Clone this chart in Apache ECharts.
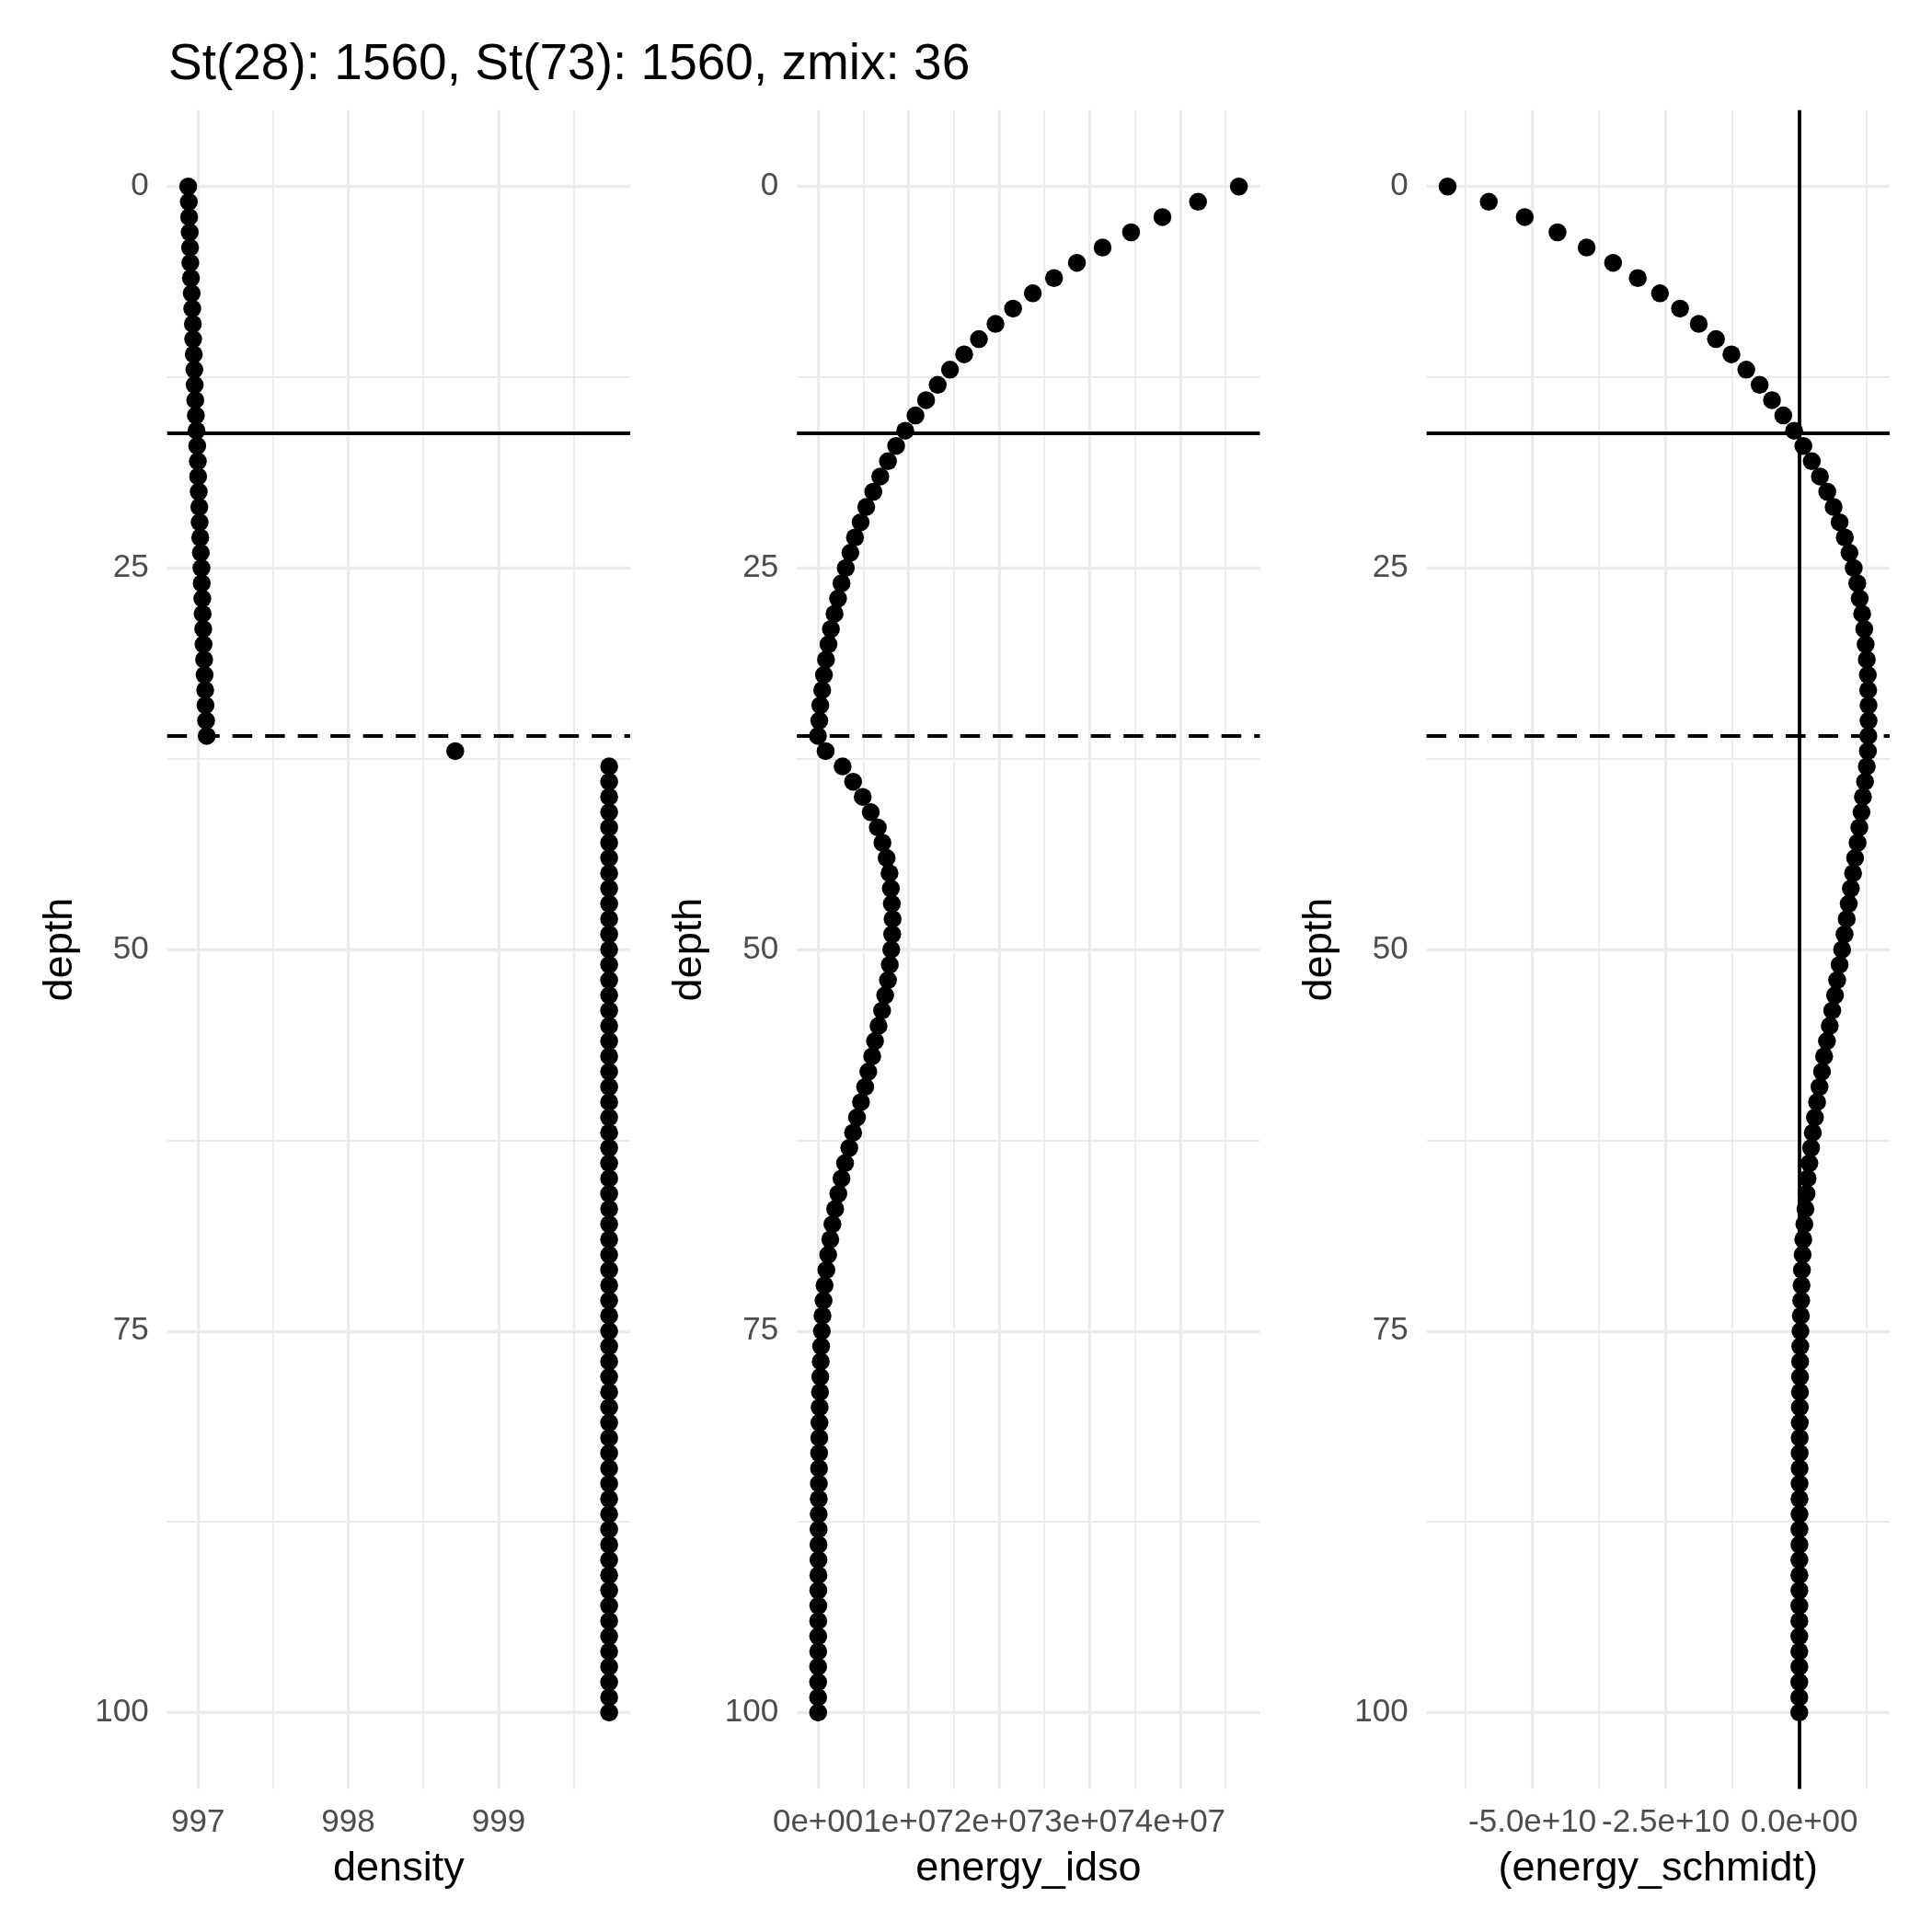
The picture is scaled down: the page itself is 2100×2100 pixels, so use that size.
<!DOCTYPE html>
<html><head><meta charset="utf-8">
<script src="https://cdn.jsdelivr.net/npm/echarts@6/dist/echarts.min.js"></script>
<style>html,body{margin:0;padding:0;background:#fff}#c{width:2100px;height:2100px}</style>
</head><body><div id="c"></div>
<script>
const titleText = 'St(28): 1560, St(73): 1560, zmix: 36';
const depth = [0,1,2,3,4,5,6,7,8,9,10,11,12,13,14,15,16,17,18,19,20,21,22,23,24,25,26,27,28,29,30,31,32,33,34,35,36,37,38,39,40,41,42,43,44,45,46,47,48,49,50,51,52,53,54,55,56,57,58,59,60,61,62,63,64,65,66,67,68,69,70,71,72,73,74,75,76,77,78,79,80,81,82,83,84,85,86,87,88,89,90,91,92,93,94,95,96,97,98,99,100];
const density = [996.935,996.939,996.941,996.945,996.947,996.949,996.953,996.958,996.962,996.966,996.968,996.972,996.976,996.978,996.982,996.986,996.990,996.995,996.999,997.001,997.005,997.009,997.011,997.015,997.019,997.023,997.025,997.029,997.031,997.035,997.037,997.041,997.044,997.048,997.050,997.054,997.058,998.712,
999.736,999.736,999.736,999.736,999.736,999.736,999.736,999.736,999.736,999.736,999.736,999.736,999.736,999.736,999.736,999.736,999.736,999.736,999.736,999.736,999.736,999.736,999.736,999.736,999.736,999.736,999.736,999.736,999.736,999.736,999.736,999.736,999.736,999.736,999.736,999.736,999.736,999.736,999.736,999.736,999.736,999.736,999.736,999.736,999.736,999.736,999.736,999.736,999.736,999.736,999.736,999.736,999.736,999.736,999.736,999.736,999.736,999.736,999.736,999.736,999.736,999.736,999.736];
const energyIdso = [4.647e7,4.196e7,3.803e7,3.457e7,3.142e7,2.859e7,2.606e7,2.372e7,2.154e7,1.960e7,1.777e7,1.614e7,1.458e7,1.322e7,1.194e7,1.077e7,0.964e7,0.863e7,0.773e7,0.688e7,0.611e7,0.533e7,0.471e7,0.409e7,0.358e7,0.307e7,0.260e7,0.222e7,0.183e7,0.143e7,0.116e7,0.089e7,0.066e7,0.047e7,0.026e7,0.015e7,0.000e7,
0.085e7,0.272e7,0.388e7,0.494e7,0.583e7,0.661e7,0.712e7,0.758e7,0.790e7,0.805e7,0.816e7,0.824e7,0.820e7,0.809e7,0.793e7,0.773e7,0.742e7,0.708e7,0.669e7,0.630e7,0.599e7,0.556e7,0.521e7,0.475e7,0.431e7,0.388e7,0.346e7,0.299e7,0.260e7,0.225e7,0.190e7,0.160e7,0.136e7,0.113e7,0.093e7,0.073e7,0.062e7,0.050e7,0.043e7,0.035e7,0.031e7,0.026e7,0.023e7,0.019e7,
0.017e7,0.015e7,0.013e7,0.012e7,0.010e7,0.009e7,0.008e7,0.007e7,0.006e7,0.006e7,0.005e7,0.004e7,0.004e7,0.003e7,0.003e7,0.003e7,0.002e7,0.002e7,0.002e7,0.002e7];
const energySchmidt = [-6.588e10,-5.817e10,-5.143e10,-4.529e10,-3.983e10,-3.488e10,-3.026e10,-2.610e10,-2.234e10,-1.884e10,-1.560e10,-1.271e10,-0.993e10,-0.743e10,-0.512e10,-0.300e10,-0.097e10,0.076e10,0.234e10,0.386e10,0.524e10,0.643e10,0.755e10,0.853e10,0.940e10,1.019e10,1.086e10,1.131e10,1.178e10,1.217e10,1.243e10,1.264e10,1.283e10,1.290e10,1.297e10,1.297e10,1.293e10,
1.285e10,1.264e10,1.231e10,1.192e10,1.165e10,1.125e10,1.092e10,1.045e10,1.007e10,0.966e10,0.926e10,0.888e10,0.848e10,0.802e10,0.755e10,0.709e10,0.669e10,0.617e10,0.571e10,0.518e10,0.465e10,0.425e10,0.379e10,0.333e10,0.293e10,0.253e10,0.221e10,0.188e10,0.155e10,0.135e10,0.115e10,0.095e10,0.075e10,0.062e10,0.049e10,0.042e10,0.036e10,0.029e10,0.022e10,
0.019e10,0.016e10,0.014e10,0.012e10,0.010e10,0.009e10,0.008e10,0.007e10,0.006e10,0.005e10,0.004e10,0.004e10,0.003e10,0.003e10,0.002e10,0.002e10,0.002e10,0.001e10,0.001e10,0.001e10,0.001e10,0.001e10,0.000e10,0.000e10,0.000e10];

const depthMajor = [0,25,50,75,100];
const depthMinor = [12.5,37.5,62.5,87.5];
const densityMajor = [997,998,999];
const densityMinor = [997.5,998.5,999.5];
const idsoMajor = [0,1e7,2e7,3e7,4e7];
const idsoMinor = [0.5e7,1.5e7,2.5e7,3.5e7,4.5e7];
const schmidtMajor = [-5e10,-2.5e10,0];
const schmidtMinor = [-6.25e10,-3.75e10,-1.25e10,1.25e10];
const thermoDepth = 16.15;   // solid horizontal line
const zmix = 36;             // dashed horizontal line
const xNames = ['density','energy_idso','(energy_schmidt)'];

const FONT = 'Liberation Sans, Arial, Helvetica, sans-serif';
const GRID = '#EBEBEB';
const gridLefts = [181.7, 866.2, 1550.6];
const gridTop = 119.8, gridW = 503.3, gridH = 1824.6;

function expanded(arr){
  const mn = Math.min(...arr), mx = Math.max(...arr), r = mx - mn;
  return [mn - 0.05*r, mx + 0.05*r];
}
const xs = [density, energyIdso, energySchmidt];
const xMajors = [densityMajor, idsoMajor, schmidtMajor];
const xMinors = [densityMinor, idsoMinor, schmidtMinor];
const xFormat = [
  v => String(v),
  v => v === 0 ? '0e+00' : (v/1e7) + 'e+07',
  v => v === 0 ? '0.0e+00' : (v/1e10).toFixed(1) + 'e+10'
];
const depthExt = expanded(depth);

const grids = [], xAxes = [], yAxes = [], series = [];
for (let p = 0; p < 3; p++) {
  grids.push({left: gridLefts[p], top: gridTop, width: gridW, height: gridH, containLabel: false});
  const ext = expanded(xs[p]);
  xAxes.push({
    gridIndex: p, type: 'value', min: ext[0], max: ext[1],
    axisLine: {show: false}, axisTick: {show: false}, splitLine: {show: false},
    axisLabel: {customValues: xMajors[p], formatter: xFormat[p], color: '#4D4D4D', fontSize: 35, fontFamily: FONT, margin: 19},
    name: xNames[p], nameLocation: 'middle', nameGap: 65,
    nameTextStyle: {color: '#000', fontSize: 45, fontFamily: FONT}
  });
  yAxes.push({
    gridIndex: p, type: 'value', inverse: true, min: depthExt[0], max: depthExt[1],
    axisLine: {show: false}, axisTick: {show: false}, splitLine: {show: false},
    axisLabel: {customValues: depthMajor, color: '#4D4D4D', fontSize: 35, fontFamily: FONT, margin: 20},
    name: 'depth', nameLocation: 'middle', nameGap: 94,
    nameTextStyle: {color: '#000', fontSize: 45, fontFamily: FONT}
  });
  // gridlines
  const gl = [];
  xMinors[p].forEach(v => gl.push({xAxis: v, lineStyle: {color: GRID, width: 1.8, type: 'solid'}}));
  depthMinor.forEach(v => gl.push({yAxis: v, lineStyle: {color: GRID, width: 1.8, type: 'solid'}}));
  xMajors[p].forEach(v => gl.push({xAxis: v, lineStyle: {color: GRID, width: 3.3, type: 'solid'}}));
  depthMajor.forEach(v => gl.push({yAxis: v, lineStyle: {color: GRID, width: 3.3, type: 'solid'}}));
  series.push({
    type: 'scatter', xAxisIndex: p, yAxisIndex: p, data: [], z: 1, silent: true,
    markLine: {z: 1, silent: true, symbol: ['none','none'], label: {show: false}, animation: false, data: gl}
  });
  // points
  series.push({
    type: 'scatter', xAxisIndex: p, yAxisIndex: p, z: 3, silent: true,
    symbol: 'circle', symbolSize: 19.5, itemStyle: {color: '#000', opacity: 1},
    data: depth.map((d, i) => [xs[p][i], d])
  });
  // reference lines
  const rl = [
    {yAxis: thermoDepth, lineStyle: {color: '#000', width: 3.8, type: 'solid'}},
    {yAxis: zmix, lineStyle: {color: '#000', width: 3.8, type: [21.5, 14]}}
  ];
  if (p === 2) rl.push({xAxis: 0, lineStyle: {color: '#000', width: 3.8, type: 'solid'}});
  series.push({
    type: 'scatter', xAxisIndex: p, yAxisIndex: p, data: [], z: 4, silent: true,
    markLine: {z: 5, silent: true, symbol: ['none','none'], label: {show: false}, animation: false, data: rl}
  });
}

const chart = echarts.init(document.getElementById('c'), null, {renderer: 'canvas', width: 2100, height: 2100});
chart.setOption({
  animation: false,
  backgroundColor: '#fff',
  title: {text: titleText, left: 178, top: 38, textStyle: {color: '#000', fontSize: 55, fontWeight: 'normal', fontFamily: FONT}},
  grid: grids, xAxis: xAxes, yAxis: yAxes, series: series
});
</script></body></html>
